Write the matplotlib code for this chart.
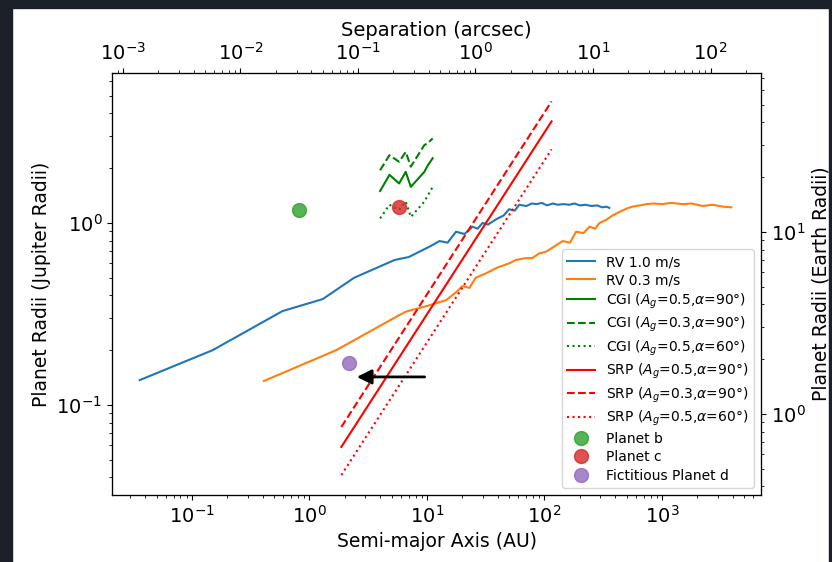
import numpy as np
import matplotlib
matplotlib.use("Agg")
import matplotlib.pyplot as plt
from matplotlib.patches import Rectangle

# RV 1.0 m/s detection limit (AU, Jupiter radii)
rv1_a = [0.036, 0.15, 0.59, 1.3, 2.4, 5.3, 5.8, 7.0, 8.6, 10.5, 12.8, 15.0, 17.7,
         20.9, 24.4, 27.0, 29.7, 33.0, 39.0, 45.0, 50.0, 56.0, 61.0, 70.0, 78.0,
         86.0, 95.0, 105.0, 118.0, 130.0, 145.0, 163.0, 180.0, 200.0, 225.0,
         250.0, 280.0, 310.0, 338.0, 357.0]
rv1_r = [0.137, 0.200, 0.328, 0.382, 0.500, 0.626, 0.634, 0.650, 0.695, 0.741,
         0.796, 0.780, 0.896, 0.870, 0.955, 0.930, 1.00, 0.98, 1.05, 1.10, 1.19,
         1.17, 1.26, 1.24, 1.28, 1.27, 1.29, 1.25, 1.28, 1.26, 1.27, 1.26, 1.28,
         1.25, 1.26, 1.24, 1.25, 1.22, 1.23, 1.21]

# RV 0.3 m/s detection limit
rv03_a = [0.41, 1.69, 5.83, 6.65, 10.0, 14.6, 18.0, 20.0, 23.0, 26.0, 32.0, 40.0,
          50.0, 57.0, 68.0, 79.0, 90.0, 103.0, 120.0, 143.0, 165.0, 186.0, 215.0,
          242.0, 270.0, 294.0, 335.0, 380.0, 435.0, 500.0, 562.0, 650.0, 734.0,
          850.0, 1000.0, 1200.0, 1500.0, 1800.0, 2213.0, 2700.0, 3300.0, 3890.0]
rv03_r = [0.1355, 0.200, 0.312, 0.326, 0.350, 0.377, 0.42, 0.45, 0.44, 0.50, 0.53,
          0.57, 0.60, 0.626, 0.64, 0.642, 0.68, 0.695, 0.74, 0.796, 0.78, 0.896,
          0.88, 0.955, 0.93, 1.00, 1.04, 1.10, 1.15, 1.20, 1.23, 1.25, 1.27, 1.28,
          1.27, 1.29, 1.27, 1.28, 1.24, 1.26, 1.23, 1.22]

# CGI limits
cgi_a = [4.0, 4.8, 5.8, 6.6, 7.3, 9.5, 10.2, 11.2]
cgi_05_90 = [1.50, 1.84, 1.65, 1.91, 1.58, 1.91, 2.08, 2.27]
cgi_03_90 = [1.95, 2.36, 2.17, 2.46, 2.04, 2.68, 2.75, 2.92]
cgi_05_60 = [1.06, 1.26, 1.18, 1.31, 1.08, 1.31, 1.42, 1.58]

# SRP limits
srp_a = [1.87, 115.0]
srp_05_90 = [0.0588, 3.62]
srp_03_90 = [0.0757, 4.66]
srp_05_60 = [0.0412, 2.54]

# planets
planet_b = (0.81, 1.18)
planet_c = (5.76, 1.22)
planet_d = (2.19, 0.170)
arrow_from = (10.1, 0.1426)
arrow_to = (2.4, 0.1426)

dist_pc = 25.9
rjup_rearth = 11.2

fig = plt.figure(figsize=(8.32, 5.62), dpi=100)
ax = fig.add_axes([0.1346, 0.1192, 0.7801, 0.7508])

ax.plot(rv1_a, rv1_r, color="C0", label="RV 1.0 m/s")
ax.plot(rv03_a, rv03_r, color="C1", label="RV 0.3 m/s")
ax.plot(cgi_a, cgi_05_90, color="green", ls="-", label=r"CGI ($A_g$=0.5,$\alpha$=90°)")
ax.plot(cgi_a, cgi_03_90, color="green", ls="--", label=r"CGI ($A_g$=0.3,$\alpha$=90°)")
ax.plot(cgi_a, cgi_05_60, color="green", ls=":", label=r"CGI ($A_g$=0.5,$\alpha$=60°)")
ax.plot(srp_a, srp_05_90, color="red", ls="-", label=r"SRP ($A_g$=0.5,$\alpha$=90°)")
ax.plot(srp_a, srp_03_90, color="red", ls="--", label=r"SRP ($A_g$=0.3,$\alpha$=90°)")
ax.plot(srp_a, srp_05_60, color="red", ls=":", label=r"SRP ($A_g$=0.5,$\alpha$=60°)")
ax.plot(*planet_b, "o", color="C2", ms=10, alpha=0.8, ls="none", label="Planet b")
ax.plot(*planet_c, "o", color="C3", ms=10, alpha=0.8, ls="none", label="Planet c")
ax.plot(*planet_d, "o", color="C4", ms=10, alpha=0.8, ls="none", label="Fictitious Planet d")

ax.annotate("", xy=arrow_to, xytext=arrow_from,
            arrowprops=dict(arrowstyle="-|>", color="k", lw=2, mutation_scale=22))

ax.set_xscale("log")
ax.set_yscale("log")
xlim = (0.0209, 6970)
ylim = (0.032, 6.67)
ax.set_xlim(xlim)
ax.set_ylim(ylim)
ax.set_xlabel("Semi-major Axis (AU)", fontsize=13.5)
ax.set_ylabel("Planet Radii (Jupiter Radii)", fontsize=13.5)
ax.tick_params(labelsize=14)
ax.legend(loc="lower right", fontsize=10, labelspacing=0.3)

# top axis: angular separation
axt = ax.twiny()
axt.set_xscale("log")
axt.set_xlim(xlim[0] / dist_pc, xlim[1] / dist_pc)
axt.set_xlabel("Separation (arcsec)", fontsize=14)
axt.tick_params(labelsize=14)

# right axis: earth radii
axr = ax.twinx()
axr.set_yscale("log")
axr.set_ylim(ylim[0] * rjup_rearth, ylim[1] * rjup_rearth)
axr.set_ylabel("Planet Radii (Earth Radii)", fontsize=13.5)
axr.tick_params(labelsize=14)

# dark screenshot border
dark = "#1c2028"
W, H = 832, 562
for x0, y0, w, h in [(0, 0, 12, H), (0, H - 8, W, 8), (W - 3, 0, 3, H)]:
    fig.patches.append(Rectangle((x0 / W, y0 / H), w / W, h / H, transform=fig.transFigure,
                                 color=dark, zorder=10))

fig.savefig("out.png", dpi=100)
